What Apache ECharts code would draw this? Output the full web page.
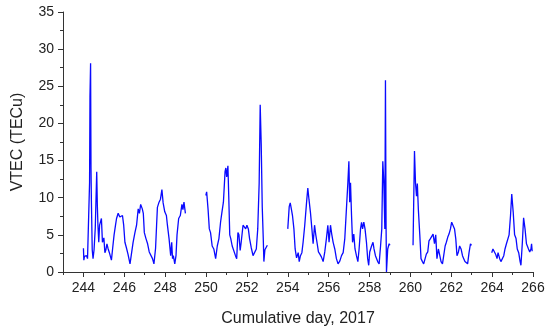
<!DOCTYPE html>
<html><head><meta charset="utf-8">
<script src="https://cdn.jsdelivr.net/npm/echarts@6/dist/echarts.min.js"></script>
<style>html,body{margin:0;padding:0;background:#fff}#c{width:550px;height:332px}</style>
</head><body><div id="c"></div>
<script>
// Cumulative day (x) and VTEC (y); '-' marks a data gap
const day = [
244.00,244.02,244.05,244.10,244.15,244.20,244.26,244.30,244.32,244.35,244.37,244.39,244.43,244.47,244.52,244.58,244.65,244.68,244.71,244.75,244.79,244.83,244.88,244.93,245.00,245.05,245.10,245.15,245.20,245.27,245.37,245.43,245.50,245.57,245.62,245.70,245.78,245.85,245.91,245.97,246.03,246.10,246.18,246.28,246.35,246.43,246.52,246.60,246.68,246.74,246.80,246.88,246.93,246.98,247.06,247.14,247.22,247.30,247.38,247.45,247.53,247.58,247.62,247.70,247.77,247.84,247.90,247.98,248.06,248.11,248.19,248.27,248.32,248.36,248.40,248.47,248.53,248.58,248.66,248.74,248.82,248.87,248.92,248.99,
249.5,
249.99,250.03,250.10,250.16,250.22,250.30,250.38,250.47,250.55,250.63,250.71,250.78,250.85,250.93,250.97,251.01,251.07,251.11,251.16,251.21,251.28,251.36,251.44,251.50,251.56,251.61,251.67,251.72,251.81,251.89,251.94,252.00,252.07,252.13,252.21,252.30,252.38,252.46,252.53,252.60,252.65,252.70,252.75,252.80,252.83,252.88,252.94,253.00,
253.5,
254.00,254.07,254.12,254.18,254.23,254.30,254.36,254.43,254.51,254.56,254.62,254.69,254.75,254.83,254.92,254.98,255.04,255.11,255.18,255.24,255.31,255.37,255.44,255.50,255.57,255.65,255.73,255.81,255.89,255.96,256.02,256.09,256.15,256.22,256.30,256.38,256.46,256.55,256.63,256.71,256.79,256.87,256.94,256.99,257.03,257.07,257.12,257.17,257.23,257.29,257.36,257.43,257.49,257.56,257.61,257.66,257.72,257.78,257.85,257.91,257.96,258.01,258.10,258.17,258.22,258.29,258.34,258.40,258.47,258.54,258.60,258.65,258.70,258.75,258.78,258.81,258.83,258.89,258.96,259.00,
259.5,
260.13,260.20,260.25,260.30,260.34,260.39,260.46,260.52,260.59,260.65,260.72,260.78,260.85,260.91,260.98,261.04,261.11,261.18,261.24,261.30,261.37,261.44,261.50,261.57,261.63,261.70,261.76,261.83,261.89,261.96,262.02,262.09,262.16,262.22,262.28,262.35,262.41,262.48,262.55,262.61,262.67,262.74,262.80,262.87,262.94,262.99,
263.5,
263.98,264.04,264.11,264.17,264.24,264.29,264.37,264.43,264.50,264.57,264.63,264.70,264.76,264.83,264.90,264.96,265.03,265.10,265.17,265.23,265.30,265.37,265.41,265.48,265.54,265.61,265.68,265.73,265.78,265.84,265.90,265.93,265.96
];
const vtec = [
3.2,1.6,2.1,1.9,2.2,1.8,2.0,12,23.6,28.1,14,9.5,3.0,1.8,3.0,6.0,13.5,9.0,6.3,4.0,6.3,6.3,7.2,4.0,4.6,2.6,3.0,3.8,3.2,2.6,1.6,3.2,5.0,6.3,7.2,7.9,7.4,7.2,7.6,6.3,4.0,3.3,2.4,1.1,1.3,4.0,5.3,6.3,8.5,7.9,9.1,8.5,7.9,5.3,4.5,3.8,2.7,2.7,1.8,1.1,3.2,6.3,8.7,9.4,9.8,11.1,9.3,8.1,7.6,6.3,4.5,2.2,4.0,1.8,2.2,1.1,2.2,5.0,7.2,7.6,9.1,8.4,9.4,7.9,
'-',
10.3,10.8,8.4,5.8,5.3,3.5,3.1,1.8,3.5,4.5,6.7,8.1,9.4,13.5,14.0,12.8,14.3,10.3,5.0,4.5,3.5,3.3,2.2,1.8,5.3,5.0,2.9,4.0,6.3,6.5,5.8,6.3,5.8,4.5,3.3,2.2,2.0,3.1,5.8,12.0,22.5,17.2,8.8,4.5,1.4,3.0,3.3,3.6,
'-',
5.8,8.8,9.3,8.4,7.6,5.8,3.1,1.9,2.6,1.4,2.2,2.6,4.0,6.3,9.4,11.3,9.7,8.0,5.8,3.8,6.3,5.0,3.8,2.7,2.4,2.0,1.4,2.7,4.5,6.3,4.0,6.3,5.1,4.0,3.1,1.8,1.1,1.5,2.2,2.6,4.5,8.5,12.0,14.9,9.4,12.0,7.6,4.0,5.1,3.1,2.2,1.4,3.1,5.8,6.7,5.8,6.7,5.8,4.0,1.8,0.9,2.7,3.5,4.0,3.1,2.2,2.0,1.4,1.1,3.5,5.8,14.9,12.0,5.8,25.8,6.0,0,3.1,3.8,3.6,
'-',
3.6,16.3,12.0,10.2,11.9,8.4,5.0,1.8,1.4,1.1,1.8,2.4,2.7,4.2,4.5,4.7,5.1,3.8,5.0,1.8,3.1,2.2,1.4,1.1,2.2,3.5,4.0,4.7,5.1,5.8,6.7,6.7,5.8,4.5,2.2,2.7,3.5,3.1,2.2,1.8,1.4,1.6,1.1,2.6,3.8,3.6,
'-',
2.6,3.1,3.3,2.4,1.8,2.6,1.8,1.4,1.6,2.2,3.1,3.8,4.0,5.0,7.6,10.5,8.1,5.0,4.5,3.1,2.6,1.4,0.9,4.0,7.3,5.8,3.8,4.0,3.1,2.7,3.1,3.8,2.8
];
const xMajorTicks = [244,246,248,250,252,254,256,258,260,262,264,266];
const xMinorTicks = [243,245,247,249,251,253,255,257,259,261,263,265];
const yTicks = [0,5,10,15,20,25,30,35];
const xTitle = 'Cumulative day, 2017';
const yTitle = 'VTEC (TECu)';

const seriesData = day.map((d, i) => [d, vtec[i]]);
const font = 'Liberation Sans, Arial, sans-serif';
const chart = echarts.init(document.getElementById('c'), null, {renderer: 'canvas'});
chart.setOption({
  animation: false,
  backgroundColor: '#fff',
  grid: {left: 63, right: 17, top: 12, bottom: 55, containLabel: false},
  xAxis: [{
    type: 'value', min: 243, max: 266, interval: 1,
    name: xTitle, nameLocation: 'middle', nameGap: 39,
    nameTextStyle: {fontFamily: font, fontSize: 16, color: '#222'},
    axisLine: {show: true, lineStyle: {color: '#333', width: 1}},
    axisTick: {show: true, customValues: xMajorTicks, length: 5, lineStyle: {color: '#333'}},
    axisLabel: {customValues: xMajorTicks, fontFamily: font, fontSize: 14, color: '#222', margin: 9},
    splitLine: {show: false}
  }, {
    type: 'value', min: 243, max: 266, interval: 1, position: 'bottom',
    axisLine: {show: false},
    axisTick: {show: true, customValues: xMinorTicks, length: 3, lineStyle: {color: '#333'}},
    axisLabel: {show: false},
    splitLine: {show: false}
  }],
  yAxis: {
    type: 'value', min: 0, max: 35, interval: 5,
    name: yTitle, nameLocation: 'middle', nameGap: 37,
    nameTextStyle: {fontFamily: font, fontSize: 16, color: '#222'},
    axisLine: {show: true, lineStyle: {color: '#333', width: 1}},
    axisTick: {show: true, length: 5, lineStyle: {color: '#333'}},
    minorTick: {show: true, splitNumber: 2, length: 3, lineStyle: {color: '#333'}},
    axisLabel: {fontFamily: font, fontSize: 14, color: '#222', margin: 9,
      formatter: v => yTicks.includes(v) ? String(v) : ''},
    splitLine: {show: false}
  },
  series: [{
    type: 'line', xAxisIndex: 0, data: seriesData, showSymbol: false, symbol: 'none',
    connectNulls: false, clip: true,
    lineStyle: {color: '#0a0aff', width: 1.3}
  }]
});
</script></body></html>
